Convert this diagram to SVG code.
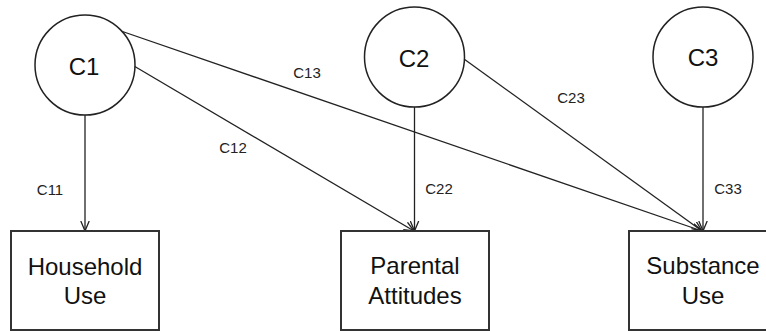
<svg xmlns="http://www.w3.org/2000/svg" width="766" height="331" viewBox="0 0 766 331">
<style>
.node circle{fill:#fff;stroke:#222;stroke-width:1.5}
.node rect{fill:#fff;stroke:#333;stroke-width:2}
.lbl{font-family:"Liberation Sans",Arial,sans-serif;font-size:24px;fill:#111;text-anchor:middle}
.cl{font-family:"Liberation Sans",Arial,sans-serif;font-size:24px;fill:#111;text-anchor:middle}
.el{font-family:"Liberation Sans",Arial,sans-serif;font-size:15px;fill:#222;text-anchor:middle}
#edges line{stroke:#222;stroke-width:1.3;fill:none;marker-end:url(#arr)}
</style>
<defs>
<marker id="arr" viewBox="0 0 10 10" refX="10" refY="5" markerWidth="10" markerHeight="10" markerUnits="userSpaceOnUse" orient="auto">
<polyline points="0,0.8 10,5 0,9.2" fill="none" stroke="#222" stroke-width="1.3"/>
</marker>
</defs>
<rect width="766" height="331" fill="#fff"/>
<g id="edges">
<line x1="85" y1="115" x2="85" y2="231"/>
<line x1="134" y1="66" x2="414" y2="231"/>
<line x1="121" y1="31" x2="702" y2="231"/>
<line x1="414.5" y1="107" x2="414.5" y2="231"/>
<line x1="464" y1="59" x2="702" y2="231"/>
<line x1="703" y1="107" x2="703" y2="231"/>
<text class="el" x="50" y="195">C11</text>
<text class="el" x="233" y="153">C12</text>
<text class="el" x="307" y="78">C13</text>
<text class="el" x="439" y="194">C22</text>
<text class="el" x="571" y="103">C23</text>
<text class="el" x="728" y="194">C33</text>
</g>
<g id="C1" class="node"><circle cx="85" cy="65" r="50"/><text class="cl" x="84" y="75">C1</text></g>
<g id="C2" class="node"><circle cx="414.5" cy="57" r="50"/><text class="cl" x="414" y="67">C2</text></g>
<g id="C3" class="node"><circle cx="703" cy="57" r="50"/><text class="cl" x="703" y="66">C3</text></g>
<g id="household" class="node"><rect x="11" y="231" width="148" height="99"/><text class="lbl" x="85" y="275">Household</text><text class="lbl" x="85" y="304">Use</text></g>
<g id="parental" class="node"><rect x="341" y="231" width="148" height="99"/><text class="lbl" x="415" y="274">Parental</text><text class="lbl" x="415" y="304">Attitudes</text></g>
<g id="substance" class="node"><rect x="629" y="231" width="148" height="99"/><text class="lbl" x="703" y="274">Substance</text><text class="lbl" x="703" y="304">Use</text></g>
</svg>
